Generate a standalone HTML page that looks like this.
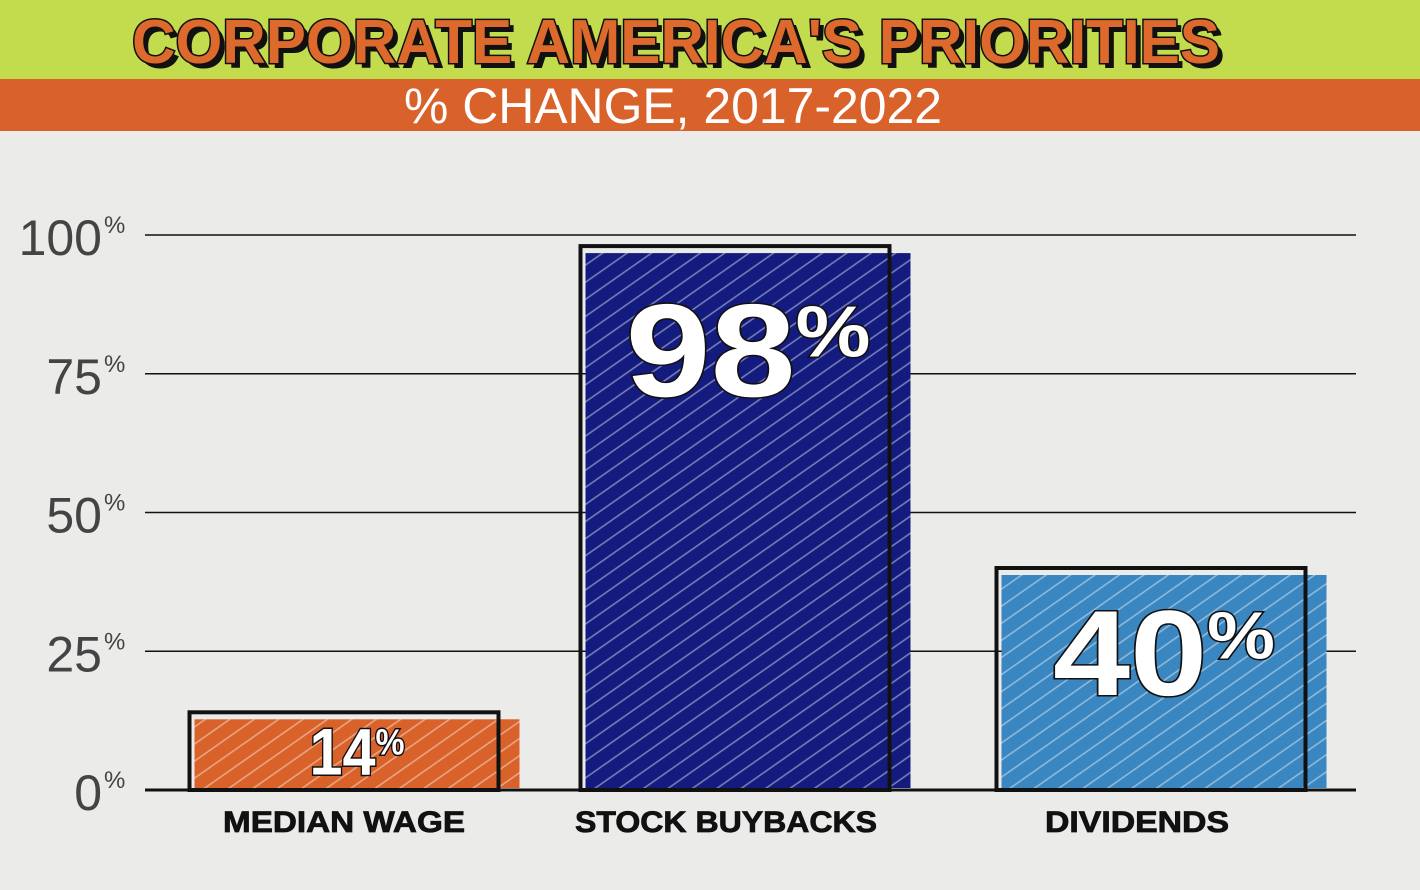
<!DOCTYPE html>
<html><head><meta charset="utf-8"><style>
html,body{margin:0;padding:0;width:1420px;height:890px;overflow:hidden;background:#ebebea}
svg{display:block}
</style></head><body>
<svg id="c" width="1420" height="890" xmlns="http://www.w3.org/2000/svg">
<defs>
<pattern id="hatch" width="14" height="14" patternUnits="userSpaceOnUse" patternTransform="rotate(-35)">
<line x1="0" y1="7" x2="14" y2="7" stroke="rgba(255,255,255,0.45)" stroke-width="1.5"/>
</pattern>
</defs>
<rect x="0" y="0" width="1420" height="79" fill="#c3dc4e"/>
<rect x="0" y="79" width="1420" height="52" fill="#d9622a"/>
<text x="681" y="68" text-anchor="middle" font-family="Liberation Sans, sans-serif" font-weight="900" font-size="62" textLength="1088" lengthAdjust="spacingAndGlyphs" fill="#111">CORPORATE AMERICA'S PRIORITIES</text>
<text x="676" y="63" text-anchor="middle" font-family="Liberation Sans, sans-serif" font-weight="900" font-size="62" textLength="1088" lengthAdjust="spacingAndGlyphs" fill="#dd6a2c" stroke="#111" stroke-width="3" paint-order="stroke">CORPORATE AMERICA'S PRIORITIES</text>
<text x="673" y="123" text-anchor="middle" font-family="Liberation Sans, sans-serif" font-size="50" textLength="538" lengthAdjust="spacingAndGlyphs" fill="#fff">% CHANGE, 2017-2022</text>
<g id="grid"></g><g id="bars"></g><g id="labels"></g>
</svg>
<script>
const categories = ["MEDIAN WAGE","STOCK BUYBACKS","DIVIDENDS"];
const values = [14, 98, 40];
const ticks = [0, 25, 50, 75, 100];
const colors = ["#d8622a","#131c7e","#3a86c0"];
const NS="http://www.w3.org/2000/svg";
const y0=790, y100=235;
const y = v => y0 - (v/100)*(y0-y100);
const centers=[344,735,1151], bw=309;
const labelCenters=[344,726,1137], labelWidths=[242,302,184];
function mk(t,a,p){const e=document.createElementNS(NS,t);for(const k in a)e.setAttribute(k,a[k]);p.appendChild(e);return e;}
const g=document.getElementById('grid'), b=document.getElementById('bars'), L=document.getElementById('labels');
ticks.forEach(t=>{
  if(t>0){const l=mk('line',{x1:145,x2:1356,y1:y(t),y2:y(t),stroke:'#111','stroke-width':1.5},g);
  
  }
  const tx=mk('text',{x:102,y:y(t)+20,'text-anchor':'end','font-family':'Liberation Sans, sans-serif','font-size':50,fill:'#444'},g);
  tx.textContent=t;
  
  
  const p=mk('text',{x:104,y:y(t)-2,'font-family':'Liberation Sans, sans-serif','font-size':24,fill:'#444'},g);
  p.textContent='%';
  
  
});
const ax=mk('line',{x1:145,x2:1356,y1:y0,y2:y0,stroke:'#111','stroke-width':3},g);


values.forEach((v,i)=>{
  const x=centers[i]-bw/2, top=y(v);
  const f=mk('rect',{x:x+5,y:top+7,width:bw+16,height:y0-top-9,fill:colors[i]},b);
  
  
  const h=mk('rect',{x:x+5,y:top+7,width:bw+16,height:y0-top-9,fill:'url(#hatch)'},b);
  
  
  const o=mk('rect',{x:x,y:top,width:bw,height:y0-top,fill:'none',stroke:'#111','stroke-width':4},b);
  
  
  const big = v>50?1:(v>25?0.92:0.5);
  const fs = 132*big;
  const tw = v>50?245:(v>25?222:95);
  const vy = v>50? top+150 : (v>25? top+127 : top+62);
  const vt=mk('text',{x:centers[i]+13,y:vy,'text-anchor':'middle','font-family':'Liberation Sans, sans-serif','font-weight':'900','font-size':fs,fill:'#fff',stroke:'#111','stroke-width':3,'paint-order':'stroke',textLength:tw,lengthAdjust:'spacingAndGlyphs'},L);
  vt.textContent=v;
  
  
  const pc=mk('tspan',{'font-size':fs*0.55,dy:-fs*0.3},vt);
  pc.textContent='%';
  const cl=mk('text',{x:labelCenters[i],y:832,'text-anchor':'middle','font-family':'Liberation Sans, sans-serif','font-weight':'900','font-size':30,fill:'#111',stroke:'#111','stroke-width':0.8,textLength:labelWidths[i],lengthAdjust:'spacingAndGlyphs'},L);
  cl.textContent=categories[i];
  
  
});
</script>
</body></html>
